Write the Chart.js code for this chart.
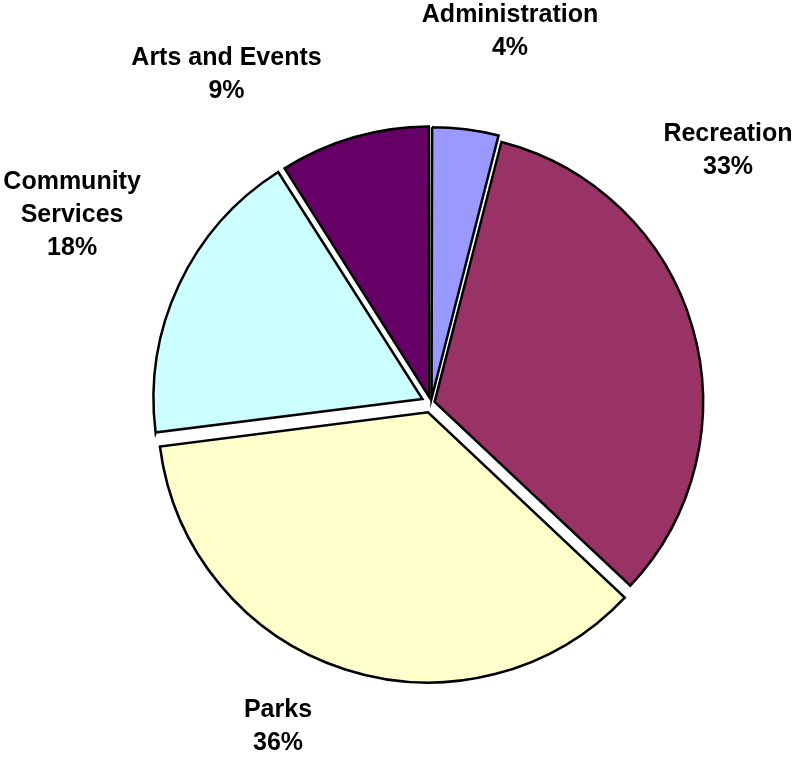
<!DOCTYPE html>
<html lang="en">
<head>
  <meta charset="UTF-8">
  <title>Budget by Division</title>
  <script src="https://cdn.jsdelivr.net/npm/chart.js"></script>
  <style>
    html, body {
      margin: 0;
      padding: 0;
      background: #fff;
    }
    #wrap {
      width: 795px;
      height: 758px;
    }
  </style>
</head>
<body>

<div id="wrap"><canvas id="myChart" width="795" height="758"></canvas></div>

<script>
// divisions, clockwise from 12 o'clock
const categories = ['Administration', 'Recreation', 'Parks', 'Community Services', 'Arts and Events'];
const shares = [4, 33, 36, 18, 9];
const labelLines = [['Administration'], ['Recreation'], ['Parks'], ['Community', 'Services'], ['Arts and Events']];

const colors = ['#9999FF', '#993366', '#FFFFCC', '#CCFFFF', '#660066'];
// explode amount per slice (chart.js offset units)
const explode = [18, 15, 39, 38, 24];
// where each label sits: degrees clockwise from top, distance from pie centre
const labelAngle = [12.0, 49.6, 205.3, 297.6, 328.1];
const labelDist = [380, 390, 358, 405, 387];

const sliceLabels = {
  id: 'sliceLabels',
  afterDraw(chart) {
    const ctx = chart.ctx;
    const arcs = chart.getDatasetMeta(0).data;
    const total = shares.reduce((a, b) => a + b, 0);
    ctx.save();
    ctx.fillStyle = '#000';
    ctx.font = 'bold 25px "Liberation Sans", Arial, sans-serif';
    ctx.textAlign = 'center';
    ctx.textBaseline = 'middle';
    const lh = 33;
    arcs.forEach((arc, i) => {
      const a = labelAngle[i] * Math.PI / 180;
      const cx = arc.x + Math.sin(a) * labelDist[i];
      const cy = arc.y - Math.cos(a) * labelDist[i];
      const lines = labelLines[i].concat([Math.round(shares[i] / total * 100) + '%']);
      const top = cy - (lines.length - 1) * lh / 2;
      lines.forEach((t, k) => ctx.fillText(t, cx, top + k * lh));
    });
    ctx.restore();
  }
};

const config = {
  type: 'pie',
  data: {
    labels: categories,
    datasets: [{
      data: shares,
      backgroundColor: colors,
      borderColor: '#000',
      borderWidth: 2.5,
      borderJoinStyle: 'miter',
      offset: explode
    }]
  },
  options: {
    responsive: false,
    animation: false,
    radius: 268,
    layout: {
      padding: { left: 67, top: 48, right: 0, bottom: 0 }
    },
    plugins: {
      legend: { display: false },
      tooltip: { enabled: false }
    }
  },
  plugins: [sliceLabels]
};

const ctx = document.getElementById('myChart').getContext('2d');
const chart = new Chart(ctx, config);
</script>

</body>
</html>
